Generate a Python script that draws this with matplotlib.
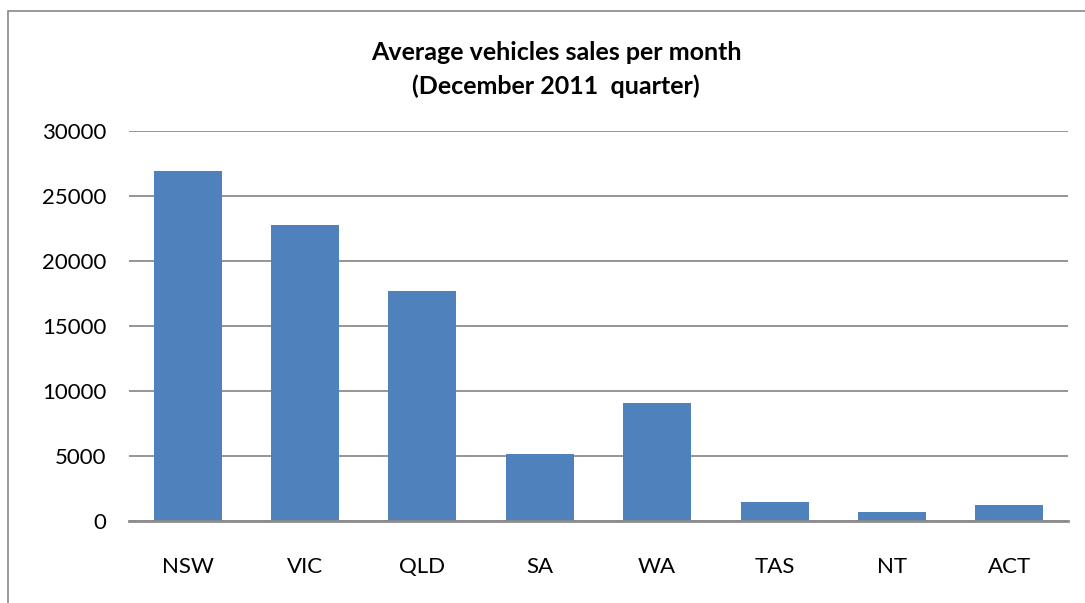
import matplotlib.pyplot as plt
from matplotlib.patches import Rectangle

states = ['NSW', 'VIC', 'QLD', 'SA', 'WA', 'TAS', 'NT', 'ACT']
sales = [26900, 22750, 17700, 5150, 9100, 1450, 660, 1250]
yticks = [0, 5000, 10000, 15000, 20000, 25000, 30000]

plt.rcParams['font.family'] = ['Lato', 'DejaVu Sans']

fig = plt.figure(figsize=(10.85, 6.03), dpi=100)
ax = fig.add_axes([129 / 1085, 82 / 603, 939 / 1085, 390 / 603])

# outer chart border (runs off the right and bottom edges)
fig.patches.append(Rectangle((8 / 1085, -0.1), 1.2, (603 - 11) / 603 + 0.1,
                             transform=fig.transFigure, fill=False,
                             edgecolor='#888888', linewidth=1.2))

x = range(len(states))
ax.bar(x, sales, width=0.58, color='#4F81BD', zorder=3)

ax.set_xlim(-0.5, len(states) - 0.5)
ax.set_ylim(0, 30000)
ax.set_yticks(yticks)
ax.set_yticklabels([str(v) for v in yticks])
ax.set_xticks(list(x))
ax.set_xticklabels(states)
ax.tick_params(axis='both', length=0, labelsize=16, colors='black')
ax.tick_params(axis='x', pad=26)
ax.tick_params(axis='y', pad=16.5)

ax.yaxis.grid(True, color='#8c8c8c', linewidth=1.3, zorder=0)
for s in ['top', 'right', 'left']:
    ax.spines[s].set_visible(False)
ax.spines['bottom'].set_color('#8c8c8c')
ax.spines['bottom'].set_linewidth(2)
ax.spines['bottom'].set_zorder(4)

fig.text(556 / 1085, 1 - 59.5 / 603, 'Average vehicles sales per month',
         ha='center', va='baseline', fontsize=18, fontweight='bold')
fig.text(556 / 1085, 1 - 93.5 / 603, '(December 2011  quarter)',
         ha='center', va='baseline', fontsize=18, fontweight='bold')

fig.savefig('out.png', dpi=100)
